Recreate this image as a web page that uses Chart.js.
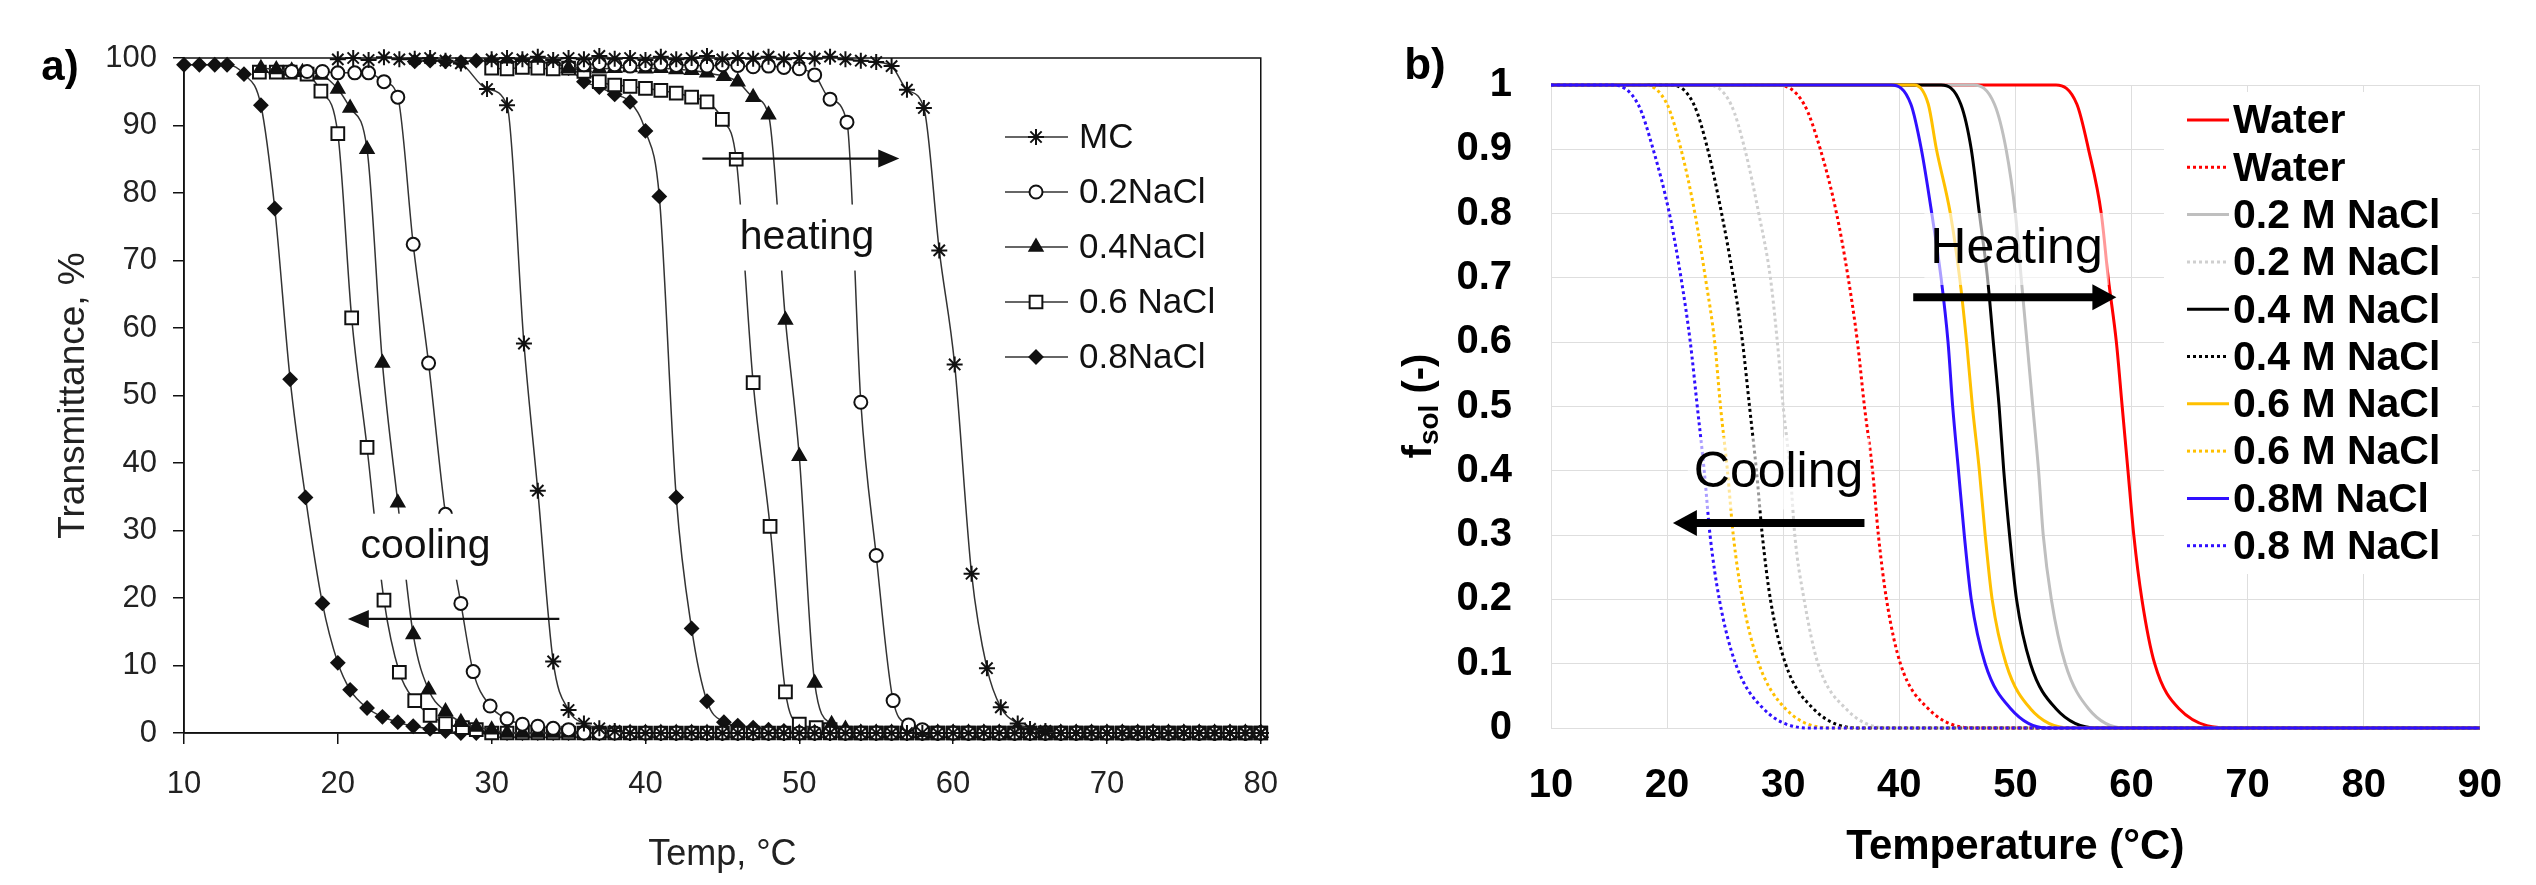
<!DOCTYPE html>
<html>
<head>
<meta charset="utf-8">
<script src="https://cdn.jsdelivr.net/npm/chart.js@4.4.1/dist/chart.umd.min.js"></script>
<style>
  html, body { margin: 0; padding: 0; background: #fff; }
  #wrap { position: relative; width: 2536px; height: 885px; overflow: hidden; }
  #chartA { position: absolute; left: 0; top: 0; }
  #chartB { position: absolute; left: 1300px; top: 0; }
</style>
</head>
<body>
<div id="wrap">
  <canvas id="chartA" width="1300" height="885"></canvas>
  <canvas id="chartB" width="1236" height="885"></canvas>
</div>
<script>
// ---------- panel a: transmittance (%) vs temperature, heating + cooling branches ----------
const mcHeatT = [30,31,32,33,34,35,36,37,38,39,40,41,42,43,44,45,46,47,48,49,50,51,52,53,54,55,56,57,58.1,59.1,60.1,61.2,62.2,63.1,64.2,65,66,67,68,69,70,71,72,73,74,75,76,77,78,79,80];
const mcHeatV = [99.8,100,99.8,100.2,99.7,100,99.8,100.3,99.9,100,99.7,100.2,99.8,100,100.3,99.8,100,99.9,100.2,99.8,100,99.9,100.2,99.8,99.6,99.4,98.8,95.3,92.6,71.5,54.6,23.6,9.6,3.8,1.4,0.6,0.3,0,0,0,0,0,0,0,0,0,0,0,0,0,0];
const mcCoolT = [20,21,22,23,24,25,26,27,28,29.7,31,32.1,33,34,35,36,37,38,39,40,41,42,43,44,45,46,47,48,49,50,51,52,53,54,55,56,57,58,59,60,61,62,63,64,65,66,67,68,69,70,71,72,73,74,75,76,77,78,79,80];
const mcCoolV = [99.8,100,99.7,100.1,99.8,99.9,100,99.6,99.2,95.4,93,57.7,35.9,10.6,3.4,1.4,0.7,0.3,0,0,0,0,0,0,0,0,0,0,0,0,0,0,0,0,0,0,0,0,0,0,0,0,0,0,0,0,0,0,0,0,0,0,0,0,0,0,0,0,0,0];

const na2HeatT = [36,37,38,39,40,41,42,43,44,45,46,47,48,49,50,51,52,53.1,54,55,56.1,57.1,58,59,60,61,62,63,64,65,66,67,68,69,70,71,72,73,74,75,76,77,78,79,80];
const na2HeatV = [99,99.2,99,98.8,99,99.1,98.9,99,98.8,99,98.9,98.7,98.8,98.6,98.4,97.5,93.9,90.5,49,26.3,4.8,1.2,0.5,0,0,0,0,0,0,0,0,0,0,0,0,0,0,0,0,0,0,0,0,0,0];
const na2CoolT = [17,18,19,20,21.1,22,23,23.9,24.9,25.9,27,28,28.8,29.9,31,32,33,34,35,36,37,38,39,40,41,42,43,44,45,46,47,48,49,50,51,52,53,54,55,56,57,58,59,60,61,62,63,64,65,66,67,68,69,70,71,72,73,74,75,76,77,78,79,80];
const na2CoolV = [98,98,98,97.8,97.8,97.8,96.5,94.2,72.4,54.8,32.4,19.2,9.1,4.0,2.1,1.3,1.0,0.7,0.5,0,0,0,0,0,0,0,0,0,0,0,0,0,0,0,0,0,0,0,0,0,0,0,0,0,0,0,0,0,0,0,0,0,0,0,0,0,0,0,0,0,0,0,0,0];

const na4HeatT = [35,36,37,38,39,40,41,42,43,44,45.1,46,47,48,49.1,50,51,52.1,53,54,55,56,57,58,59,60,61,62,63,64,65,66,67,68,69,70,71,72,73,74,75,76,77,78,79,80];
const na4HeatV = [98.5,98.6,98.4,98.5,98.6,98.4,98.5,98.3,98.2,97.8,97.3,96.5,94.2,91.6,61.2,41,7.4,1.3,0.6,0,0,0,0,0,0,0,0,0,0,0,0,0,0,0,0,0,0,0,0,0,0,0,0,0,0,0];
const na4CoolT = [15,16,17,17.7,18.9,20,20.8,21.9,22.9,23.9,24.9,25.9,27,28,29,30,31,32,33,34,35,36,37,38,39,40,41,42,43,44,45,46,47,48,49,50,51,52,53,54,55,56,57,58,59,60,61,62,63,64,65,66,67,68,69,70,71,72,73,74,75,76,77,78,79,80];
const na4CoolV = [98.5,98.3,98.1,97.9,97.5,95.4,92.6,86.5,54.8,34.1,14.6,6.4,3.2,1.6,0.9,0.5,0,0,0,0,0,0,0,0,0,0,0,0,0,0,0,0,0,0,0,0,0,0,0,0,0,0,0,0,0,0,0,0,0,0,0,0,0,0,0,0,0,0,0,0,0,0,0,0,0,0];

const na6HeatT = [30,31,32,33,34,35,36,37,38,39,40,41,42,43,44,45,45.9,47,48.1,49.1,50,51.1,52,53,54,55,56,57,58,59,60,61,62,63,64,65,66,67,68,69,70,71,72,73,74,75,76,77,78,79,80];
const na6HeatV = [98.5,98.4,98.6,98.5,98.4,98.5,98,96.5,96,95.8,95.5,95.2,94.8,94.2,93.5,90.9,85,51.9,30.6,6.1,1.3,0.8,0.5,0,0,0,0,0,0,0,0,0,0,0,0,0,0,0,0,0,0,0,0,0,0,0,0,0,0,0,0];
const na6CoolT = [14.9,16,16.9,18,18.9,20,20.9,21.9,23,24,25,26,27,28.1,29,30,31,32,33,34,35,36,37,38,39,40,41,42,43,44,45,46,47,48,49,50,51,52,53,54,55,56,57,58,59,60,61,62,63,64,65,66,67,68,69,70,71,72,73,74,75,76,77,78,79,80];
const na6CoolV = [97.9,97.9,97.9,97.6,95.1,88.8,61.5,42.3,19.7,9.0,4.8,2.6,1.4,0.8,0.5,0,0,0,0,0,0,0,0,0,0,0,0,0,0,0,0,0,0,0,0,0,0,0,0,0,0,0,0,0,0,0,0,0,0,0,0,0,0,0,0,0,0,0,0,0,0,0,0,0,0,0];

const na8HeatT = [25,26,27,28,29,30,31,32,33,34,35,36,37,38,39,40,40.9,42,43,44,45.1,46,47,48,49,50,51,52,53,54,55,56,57,58,59,60,61,62,63,64,65,66,67,68,69,70,71,72,73,74,75,76,77,78,79,80];
const na8HeatV = [99.5,99.6,99.5,99.4,99.6,99.5,99.4,99.5,99.4,99.2,98.5,96.5,95.7,94.6,93.5,89.2,79.5,34.9,15.5,4.7,1.6,1.1,0.8,0.5,0.3,0,0,0,0,0,0,0,0,0,0,0,0,0,0,0,0,0,0,0,0,0,0,0,0,0,0,0,0,0,0,0];
const na8CoolT = [10,11,12,12.8,13.9,15,15.9,16.9,17.9,19,20,20.8,21.9,22.9,23.9,24.9,26,27,28,29,30,31,32,33,34,35,36,37,38,39,40,41,42,43,44,45,46,47,48,49,50,51,52,53,54,55,56,57,58,59,60,61,62,63,64,65,66,67,68,69,70,71,72,73,74,75,76,77,78,79,80];
const na8CoolV = [99,99,99,99,97.6,93,77.7,52.4,34.9,19.2,10.4,6.4,3.7,2.4,1.6,1.0,0.6,0.3,0,0,0,0,0,0,0,0,0,0,0,0,0,0,0,0,0,0,0,0,0,0,0,0,0,0,0,0,0,0,0,0,0,0,0,0,0,0,0,0,0,0,0,0,0,0,0,0,0,0,0,0,0];

const labelsA = ['MC', '0.2NaCl', '0.4NaCl', '0.6 NaCl', '0.8NaCl'];
const ticksA_x = [10, 20, 30, 40, 50, 60, 70, 80];

// ---------- panel b: f_sol vs temperature ----------
const fLevels = [1, 1, 0.97, 0.9, 0.8, 0.7, 0.6, 0.5, 0.4, 0.3, 0.2, 0.1, 0.03, 0, 0];
const waterHeatT = [10, 53.5, 55.3, 56.3, 57.4, 58.0, 58.7, 59.2, 59.7, 60.2, 60.9, 62.0, 64.1, 68.9, 90];
const waterCoolT = [10, 29.5, 31.8, 33.2, 34.6, 35.6, 36.4, 37.0, 37.7, 38.2, 38.9, 40.1, 42.5, 46.4, 90];
const m02HeatT = [10, 46.4, 48.2, 49.2, 50.0, 50.5, 51.0, 51.5, 52.0, 52.4, 53.1, 54.3, 56.3, 59.4, 90];
const m02CoolT = [10, 23.5, 25.5, 26.7, 27.9, 28.9, 29.5, 30.0, 30.6, 31.0, 31.8, 33.0, 35.4, 38.9, 90];
const m04HeatT = [10, 43.6, 45.3, 46.2, 46.9, 47.6, 48.1, 48.6, 49.0, 49.5, 50.1, 51.3, 53.5, 57.0, 90];
const m04CoolT = [10, 20.4, 22.3, 23.5, 24.7, 25.7, 26.5, 27.1, 27.7, 28.2, 28.9, 30.2, 32.6, 36.5, 90];
const m06HeatT = [10, 41.3, 42.5, 43.2, 44.4, 45.2, 45.8, 46.3, 46.9, 47.4, 48.0, 49.2, 51.3, 54.7, 90];
const m06CoolT = [10, 18.0, 20.0, 21.2, 22.4, 23.3, 24.1, 24.6, 25.2, 25.7, 26.5, 27.9, 30.2, 34.2, 90];
const m08HeatT = [10, 39.3, 41.0, 41.9, 42.8, 43.6, 44.2, 44.6, 45.1, 45.6, 46.2, 47.4, 49.6, 52.7, 90];
const m08CoolT = [10, 15.3, 17.5, 18.8, 20.2, 21.2, 22.0, 22.6, 23.2, 23.7, 24.5, 25.9, 28.3, 32.2, 90];
const labelsB = ['Water', 'Water', '0.2 M NaCl', '0.2 M NaCl', '0.4 M NaCl', '0.4 M NaCl', '0.6 M NaCl', '0.6 M NaCl', '0.8M NaCl', '0.8 M NaCl'];

const FA = "'Liberation Sans', Arial, sans-serif";

// ================= chart a =================
const seriesA = [
  { heat: [mcHeatT, mcHeatV], cool: [mcCoolT, mcCoolV], style: 'star', r: 8, fill: '#fff' },
  { heat: [na2HeatT, na2HeatV], cool: [na2CoolT, na2CoolV], style: 'circle', r: 6.5, fill: '#fff' },
  { heat: [na4HeatT, na4HeatV], cool: [na4CoolT, na4CoolV], style: 'triangle', r: 7.5, fill: '#111' },
  { heat: [na6HeatT, na6HeatV], cool: [na6CoolT, na6CoolV], style: 'rect', r: 9, fill: '#fff' },
  { heat: [na8HeatT, na8HeatV], cool: [na8CoolT, na8CoolV], style: 'rectRot', r: 6.5, fill: '#111' }
];

const dsA = [];
seriesA.forEach((s, k) => {
  [s.heat, s.cool].forEach(([xs, ys]) => {
    dsA.push({
      label: labelsA[k],
      data: xs.map((x, i) => ({ x: x, y: ys[i] })),
      showLine: true,
      borderColor: '#333',
      borderWidth: 1.5,
      cubicInterpolationMode: 'monotone',
      pointStyle: s.style,
      pointRadius: s.r,
      pointBackgroundColor: s.fill,
      pointBorderColor: '#111',
      pointBorderWidth: 2,
      clip: false
    });
  });
});

function arrow(ctx, x1, y, x2, lw, headLen, headHalf) {
  const dir = Math.sign(x2 - x1);
  ctx.lineWidth = lw;
  ctx.beginPath();
  ctx.moveTo(x1, y);
  ctx.lineTo(x2 - dir * headLen * 0.8, y);
  ctx.stroke();
  ctx.beginPath();
  ctx.moveTo(x2, y);
  ctx.lineTo(x2 - dir * headLen, y - headHalf);
  ctx.lineTo(x2 - dir * headLen, y + headHalf);
  ctx.closePath();
  ctx.fill();
}

const decorA = {
  id: 'decorA',
  beforeDatasetsDraw(chart) {
    const { ctx, chartArea: a } = chart;
    ctx.save();
    ctx.strokeStyle = '#111';
    ctx.lineWidth = 1.5;
    ctx.strokeRect(a.left, a.top, a.right - a.left, a.bottom - a.top);
    ctx.restore();
  },
  afterDatasetsDraw(chart) {
    const { ctx } = chart;
    const sx = v => chart.scales.x.getPixelForValue(v);
    const sy = v => chart.scales.y.getPixelForValue(v);
    ctx.save();
    ctx.font = '41px ' + FA;
    ctx.textAlign = 'center';
    ctx.textBaseline = 'middle';
    [['heating', 50.5, 73.4], ['cooling', 25.7, 27.6]].forEach(([t, x, y]) => {
      const w = ctx.measureText(t).width;
      ctx.fillStyle = '#fff';
      ctx.fillRect(sx(x) - w / 2 - 4, sy(y) - 33, w + 8, 66);
      ctx.fillStyle = '#111';
      ctx.fillText(t, sx(x), sy(y));
    });
    ctx.strokeStyle = '#111';
    ctx.fillStyle = '#111';
    arrow(ctx, sx(43.7), sy(85.1), sx(56.5), 2.2, 21, 9);
    arrow(ctx, sx(34.4), sy(16.9), sx(20.65), 2.2, 21, 9);

    // legend
    ctx.textAlign = 'left';
    ctx.font = '35px ' + FA;
    seriesA.forEach((s, k) => {
      const y = 137 + k * 55;
      ctx.strokeStyle = '#333';
      ctx.lineWidth = 1.6;
      ctx.beginPath(); ctx.moveTo(1005, y); ctx.lineTo(1068, y); ctx.stroke();
      ctx.fillStyle = s.fill;
      ctx.strokeStyle = '#111';
      ctx.lineWidth = 2;
      Chart.helpers.drawPoint(ctx, { pointStyle: s.style, radius: s.r, rotation: 0, borderWidth: 2 }, 1036, y);
      ctx.fillStyle = '#111';
      ctx.fillText(labelsA[k], 1079, y + 1);
    });
    ctx.restore();
  },
  afterDraw(chart) {
    const { ctx } = chart;
    ctx.save();
    ctx.font = 'bold 42px ' + FA;
    ctx.fillStyle = '#000';
    ctx.textAlign = 'center';
    ctx.textBaseline = 'middle';
    ctx.fillText('a)', 60, 68);
    ctx.restore();
  }
};

new Chart(document.getElementById('chartA'), {
  type: 'scatter',
  data: { datasets: dsA },
  options: {
    responsive: false,
    devicePixelRatio: 1,
    animation: false,
    events: [],
    layout: { padding: { top: 58, right: 38, left: 0, bottom: 0 } },
    plugins: { legend: { display: false }, tooltip: { enabled: false } },
    scales: {
      x: {
        type: 'linear', min: 10, max: 80,
        afterBuildTicks: s => { s.ticks = ticksA_x.map(v => ({ value: v })); },
        ticks: { font: { family: FA, size: 31 }, color: '#222', padding: 22 },
        grid: { drawOnChartArea: false, tickLength: 11, color: '#111', lineWidth: 1.5 },
        border: { color: '#111', width: 1.5 },
        title: { display: true, text: 'Temp, °C', font: { family: FA, size: 36 }, color: '#222', padding: { bottom: 8 } },
        afterFit: s => { s.height = 152; }
      },
      y: {
        type: 'linear', min: 0, max: 100,
        ticks: { stepSize: 10, font: { family: FA, size: 31 }, color: '#222', padding: 16 },
        grid: { drawOnChartArea: false, tickLength: 11, color: '#111', lineWidth: 1.5 },
        border: { color: '#111', width: 1.5 },
        title: { display: true, text: 'Transmittance, %', font: { family: FA, size: 37 }, color: '#222', padding: { top: 52 } },
        afterFit: s => { s.width = 184; }
      }
    }
  },
  plugins: [decorA]
});

// ================= chart b =================
const seriesB = [
  { t: waterHeatT, color: '#ff0000', dash: [] },
  { t: waterCoolT, color: '#ff0000', dash: [3, 3] },
  { t: m02HeatT, color: '#bfbfbf', dash: [] },
  { t: m02CoolT, color: '#cfcfcf', dash: [3, 3] },
  { t: m04HeatT, color: '#000000', dash: [] },
  { t: m04CoolT, color: '#000000', dash: [3, 3] },
  { t: m06HeatT, color: '#ffc000', dash: [] },
  { t: m06CoolT, color: '#ffc000', dash: [3, 3] },
  { t: m08HeatT, color: '#3010ff', dash: [] },
  { t: m08CoolT, color: '#3010ff', dash: [3, 3] }
];

const decorB = {
  id: 'decorB',
  afterDatasetsDraw(chart) {
    const { ctx } = chart;
    const sx = v => chart.scales.x.getPixelForValue(v);
    const sy = v => chart.scales.y.getPixelForValue(v);
    ctx.save();
    ctx.font = '50px ' + FA;
    ctx.textAlign = 'center';
    ctx.textBaseline = 'middle';
    [['Heating', 50.1, 0.745], ['Cooling', 29.6, 0.396]].forEach(([t, x, y]) => {
      const w = ctx.measureText(t).width;
      ctx.fillStyle = 'rgba(255,255,255,0.6)';
      ctx.fillRect(sx(x) - w / 2 - 6, sy(y) - 36, w + 12, 72);
      ctx.fillStyle = '#000';
      ctx.fillText(t, sx(x), sy(y));
    });
    ctx.strokeStyle = '#000';
    ctx.fillStyle = '#000';
    arrow(ctx, sx(41.2), sy(0.67), sx(58.7), 8, 24, 13);
    arrow(ctx, sx(37.0), sy(0.319), sx(20.5), 8, 24, 13);

    // legend
    ctx.fillStyle = '#fff';
    ctx.fillRect(864, 92, 308, 482);
    ctx.font = 'bold 41px ' + FA;
    ctx.textAlign = 'left';
    chart.data.datasets.forEach((d, i) => {
      const y = 120 + i * 47.3;
      ctx.strokeStyle = d.borderColor;
      ctx.lineWidth = 3;
      ctx.setLineDash(d.borderDash);
      ctx.beginPath(); ctx.moveTo(887, y); ctx.lineTo(929, y); ctx.stroke();
      ctx.setLineDash([]);
      ctx.fillStyle = '#000';
      ctx.fillText(d.label, 933, y + 2);
    });
    ctx.restore();
  },
  afterDraw(chart) {
    const { ctx } = chart;
    ctx.save();
    ctx.fillStyle = '#000';
    ctx.textBaseline = 'middle';
    ctx.textAlign = 'center';
    ctx.font = 'bold 44px ' + FA;
    ctx.fillText('b)', 125, 67);
    // y title with subscript
    ctx.translate(120, 406);
    ctx.rotate(-Math.PI / 2);
    ctx.textAlign = 'left';
    const big = 'bold 40px ' + FA, small = 'bold 28px ' + FA;
    ctx.font = big; const w1 = ctx.measureText('f').width; const w3 = ctx.measureText(' (-)').width;
    ctx.font = small; const w2 = ctx.measureText('sol').width;
    let x = -(w1 + w2 + w3) / 2;
    ctx.font = big; ctx.fillText('f', x, 0); x += w1;
    ctx.font = small; ctx.fillText('sol', x, 10); x += w2;
    ctx.font = big; ctx.fillText(' (-)', x, 0);
    ctx.restore();
  }
};

new Chart(document.getElementById('chartB'), {
  type: 'scatter',
  data: {
    datasets: seriesB.map((s, k) => ({
      label: labelsB[k],
      data: s.t.map((x, i) => ({ x: x, y: fLevels[i] })),
      showLine: true,
      borderColor: s.color,
      borderWidth: 3,
      borderDash: s.dash,
      pointRadius: 0,
      cubicInterpolationMode: 'monotone',
      order: -k,
      clip: false
    }))
  },
  options: {
    responsive: false,
    devicePixelRatio: 1,
    animation: false,
    events: [],
    layout: { padding: { top: 85, right: 53, left: 0, bottom: 0 } },
    plugins: { legend: { display: false }, tooltip: { enabled: false } },
    scales: {
      x: {
        type: 'linear', min: 10, max: 90,
        ticks: { stepSize: 10, font: { family: FA, size: 40, weight: 'bold' }, color: '#000', padding: 34 },
        grid: { color: '#dedede', lineWidth: 1, drawTicks: false },
        border: { color: '#dedede' },
        title: { display: true, text: 'Temperature (°C)', font: { family: FA, size: 42, weight: 'bold' }, color: '#000', padding: { bottom: 12 } },
        afterFit: s => { s.height = 157; }
      },
      y: {
        type: 'linear', min: 0, max: 1,
        ticks: { stepSize: 0.1, font: { family: FA, size: 40, weight: 'bold' }, color: '#000', padding: 39,
                 callback: v => String(+v.toFixed(1)) },
        grid: { color: '#dedede', lineWidth: 1, drawTicks: false },
        border: { color: '#dedede' },
        afterFit: s => { s.width = 251; }
      }
    }
  },
  plugins: [decorB]
});
</script>
</body>
</html>
